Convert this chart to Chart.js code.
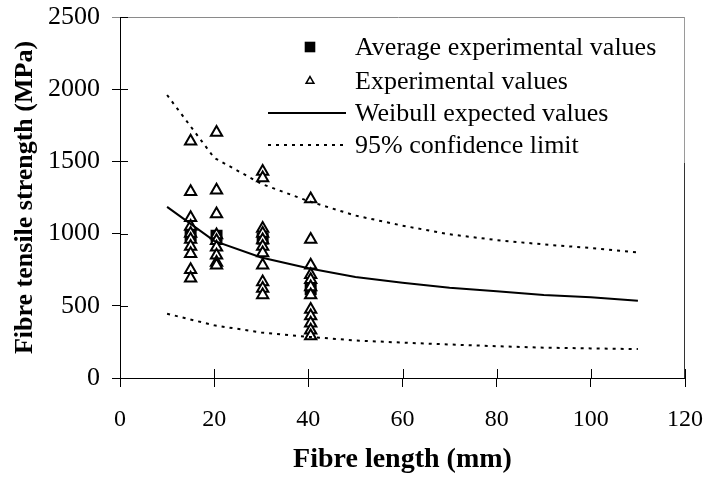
<!DOCTYPE html>
<html><head><meta charset="utf-8">
<script src="https://cdn.jsdelivr.net/npm/chart.js@4.4.1/dist/chart.umd.min.js"></script>
<style>html,body{margin:0;padding:0;background:#fff;}#wrap{width:708px;height:481px;}</style>
</head><body><div id="wrap"><canvas id="c" width="708" height="481"></canvas></div>
<script>
// ---- data ----
const modelLengths = [10, 20, 30, 40, 50, 60, 70, 80, 90, 100, 110];
const weibullExpected = [1185, 950, 835, 760, 700, 660, 625, 600, 575, 560, 535];
const upperLimit = [1960, 1525, 1345, 1225, 1125, 1055, 995, 955, 925, 900, 870];
const lowerLimit = [445, 365, 315, 285, 260, 245, 232, 220, 210, 205, 200];

const expLengths = [15, 20.5, 30.3, 40.5];
const exp15 = [1640, 1290, 1110, 1050, 1000, 960, 910, 860, 750, 690];
const exp20 = [1700, 1300, 1135, 990, 950, 905, 850, 800, 780];
const exp30 = [1430, 1385, 1035, 1000, 955, 910, 865, 780, 665, 620, 575];
const exp40 = [1240, 960, 780, 715, 680, 630, 575, 475, 430, 380, 330, 290];
const avgValues = [990, 985, 965, 615];

const xTicks = [0, 20, 40, 60, 80, 100, 120];
const yTicks = [0, 500, 1000, 1500, 2000, 2500];

// ---- build library tables ----
const expGroups = [exp15, exp20, exp30, exp40];
const expPoints = [];
expGroups.forEach((g, i) => g.forEach(v => expPoints.push({x: expLengths[i], y: v})));
const avgPoints = avgValues.map((v, i) => ({x: expLengths[i], y: v}));
const toXY = arr => arr.map((v, i) => ({x: modelLengths[i], y: v}));

const FONT = 'Liberation Serif';

const framePlugin = {
  id: 'frame',
  beforeDatasetsDraw(chart) {
    const {ctx, chartArea: a} = chart;
    ctx.save();
    ctx.lineWidth = 1;
    ctx.strokeStyle = '#8a8a8a';
    ctx.beginPath(); ctx.moveTo(a.left - 8, a.top + 0.5); ctx.lineTo(a.right, a.top + 0.5); ctx.stroke();
    ctx.strokeStyle = '#9a9a9a';
    ctx.beginPath(); ctx.moveTo(a.right - 0.5, a.top); ctx.lineTo(a.right - 0.5, a.top + 146); ctx.stroke();
    ctx.strokeStyle = '#333';
    ctx.beginPath(); ctx.moveTo(a.right - 0.5, a.top + 146); ctx.lineTo(a.right - 0.5, a.bottom); ctx.stroke();
    // inner halves of tick marks
    ctx.strokeStyle = '#000';
    const xs = chart.scales.x, ys = chart.scales.y;
    xs.ticks.forEach(t => {
      const px = Math.round(xs.getPixelForValue(t.value)) + 0.5;
      ctx.beginPath(); ctx.moveTo(px, a.bottom); ctx.lineTo(px, a.bottom - 9); ctx.stroke();
    });
    ys.ticks.forEach(t => {
      const py = Math.round(ys.getPixelForValue(t.value)) + 0.5;
      ctx.beginPath(); ctx.moveTo(a.left, py); ctx.lineTo(a.left + 8, py); ctx.stroke();
    });
    ctx.restore();
  }
};

const legendPlugin = {
  id: 'insideLegend',
  afterDraw(chart) {
    const {ctx, chartArea: a} = chart;
    const rowsY = [a.top + 30, a.top + 64, a.top + 96, a.top + 128];
    const markX = a.left + 190, textX = a.left + 235;
    ctx.save();
    ctx.font = '26px "' + FONT + '"';
    ctx.textBaseline = 'middle';
    ctx.textAlign = 'left';
    const order = [0, 1, 2, 3];
    order.forEach((di, i) => {
      const ds = chart.data.datasets[di];
      const y = rowsY[i];
      ctx.fillStyle = ds.backgroundColor;
      ctx.strokeStyle = ds.borderColor;
      ctx.lineWidth = ds.legendBorder;
      ctx.setLineDash([]);
      if (ds.showLine) {
        ctx.setLineDash(ds.borderDash || []);
        ctx.lineWidth = ds.borderWidth;
        ctx.beginPath(); ctx.moveTo(a.left + 148, y); ctx.lineTo(a.left + 226, y); ctx.stroke();
        ctx.setLineDash([]);
      } else {
        Chart.helpers.drawPoint(ctx, {pointStyle: ds.pointStyle, radius: ds.legendRadius, borderWidth: ds.legendBorder, rotation: 0}, markX, y);
      }
      ctx.fillStyle = '#000';
      ctx.fillText(ds.label, textX, y + 1);
    });
    ctx.restore();
  }
};

new Chart(document.getElementById('c'), {
  type: 'scatter',
  data: {
    datasets: [
      {label: 'Average experimental values', data: avgPoints, pointStyle: 'rect', pointRadius: 8.5,
       backgroundColor: '#000', borderColor: '#000', borderWidth: 0, legendRadius: 7.5, legendBorder: 0, order: 4},
      {label: 'Experimental values', data: expPoints, pointStyle: 'triangle', pointRadius: 6.5,
       backgroundColor: '#fff', borderColor: '#000', borderWidth: 2, legendRadius: 4.5, legendBorder: 1.5, order: 3},
      {label: 'Weibull expected values', data: toXY(weibullExpected), showLine: true, pointRadius: 0,
       borderColor: '#000', backgroundColor: '#000', borderWidth: 2, order: 1},
      {label: '95% confidence limit', data: toXY(upperLimit), showLine: true, pointRadius: 0,
       borderColor: '#000', backgroundColor: '#000', borderWidth: 2, borderDash: [3, 5], order: 2},
      {label: '95% confidence limit (lower)', data: toXY(lowerLimit), showLine: true, pointRadius: 0,
       borderColor: '#000', backgroundColor: '#000', borderWidth: 2, borderDash: [3, 5], order: 2}
    ]
  },
  options: {
    responsive: false,
    animation: false,
    devicePixelRatio: 1,
    layout: {padding: {left: 0, right: 23, top: 17, bottom: 0}},
    plugins: {legend: {display: false}, tooltip: {enabled: false}},
    scales: {
      x: {
        type: 'linear', min: 0, max: 120,
        afterBuildTicks: s => { s.ticks = xTicks.map(v => ({value: v})); },
        ticks: {color: '#000', font: {family: FONT, size: 24}, padding: 18, callback: v => String(v)},
        grid: {drawOnChartArea: false, tickLength: 9, color: '#000'},
        border: {color: '#000', width: 1},
        title: {display: true, text: 'Fibre length (mm)', color: '#000',
                font: {family: FONT, size: 28, weight: 'bold'}, padding: {top: 0, bottom: 4}},
        afterFit: s => { s.height = 103; s.paddingLeft = 0; s.paddingRight = 0; }
      },
      y: {
        type: 'linear', min: 0, max: 2500,
        afterBuildTicks: s => { s.ticks = yTicks.map(v => ({value: v})); },
        ticks: {color: '#000', font: {family: FONT, size: 26}, padding: 12, callback: v => String(v)},
        grid: {drawOnChartArea: false, tickLength: 8, color: '#000'},
        border: {color: '#000', width: 1},
        title: {display: true, text: 'Fibre tensile strength (MPa)', color: '#000',
                font: {family: FONT, size: 26, weight: 'bold'}, padding: {top: 10, bottom: 0}},
        afterFit: s => { s.width = 120; s.paddingTop = 0; s.paddingBottom = 0; }
      }
    }
  },
  plugins: [framePlugin, legendPlugin]
});
</script>
</body></html>
